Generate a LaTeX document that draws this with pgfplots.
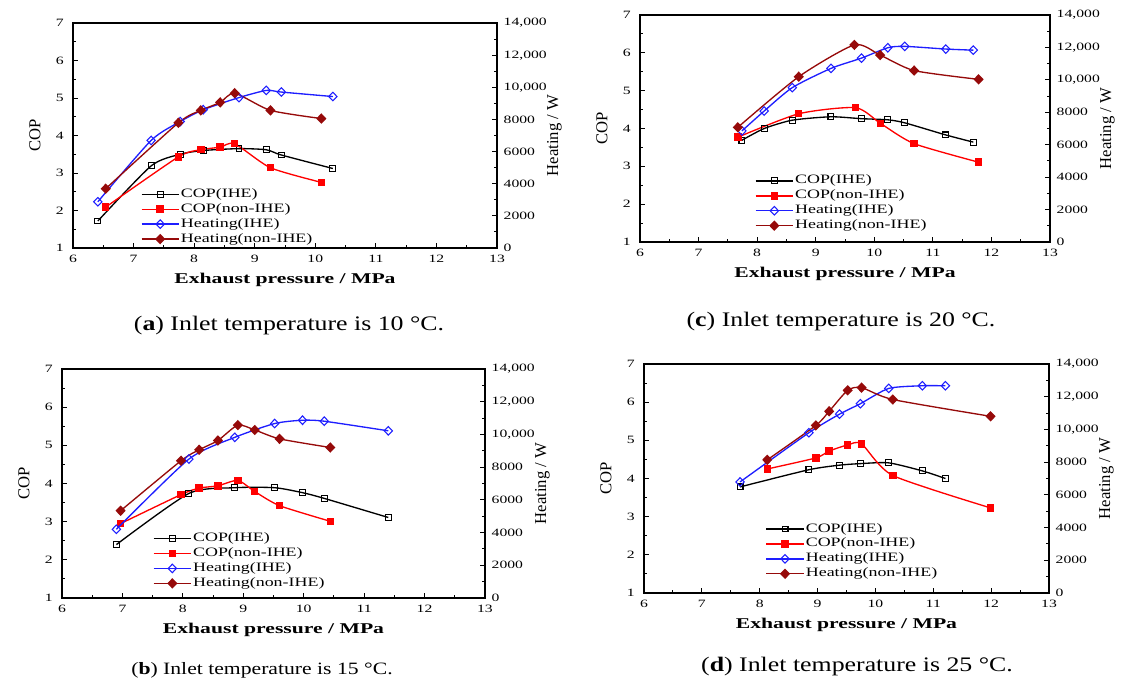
\documentclass[border=0pt]{standalone}
\usepackage{fontspec}
\setmainfont{Liberation Serif}
\newfontfamily\tickfont[FakeStretch=1.4]{Liberation Serif}
\newfontfamily\legfont[FakeStretch=1.4]{Liberation Serif}
\newfontfamily\labfont[FakeStretch=1.45]{Liberation Serif}
\newfontfamily\capfont[FakeStretch=1.25]{Liberation Serif}
\usepackage{pgfplots}
\pgfplotsset{compat=1.18}

\definecolor{cblue}{RGB}{30,30,255}
\definecolor{cdred}{RGB}{150,10,10}

\pgfplotsset{
  base/.style={
    scale only axis, anchor=south west,
    xmin=6, xmax=13, xtick={6,...,13}, minor x tick num=1,
    tick align=inside,
    major tick length=3.5pt, minor tick length=2pt,
    every tick/.style={black, line width=0.7pt},
    axis line style={line width=0.9pt},
    /pgf/number format/assume math mode=true,
    ticklabel style={font=\tickfont\fontsize{8.4}{9}\selectfont},
  },
  copax/.style={base,
    ymin=1, ymax=7, ytick={1,...,7}, minor y tick num=1,
    tick pos=left,
    xticklabel style={yshift=-1.5pt},
    yticklabel style={xshift=-3.5pt},
    xlabel={\labfont\bfseries\fontsize{11.2}{12}\selectfont Exhaust pressure / MPa},
    ylabel={\fontsize{12.5}{13}\selectfont COP},
    every axis x label/.style={at={(axis description cs:0.5,0)}, yshift=-24pt, anchor=center},
    every axis y label/.style={at={(axis description cs:0,0.5)}, xshift=-28.5pt, rotate=90, anchor=center},
  },
  heatax/.style={base,
    axis x line=none, axis y line*=right,
    ymin=0, ymax=14000, ytick={0,2000,...,14000},
    yticklabels={0,2000,4000,6000,8000,{10,000},{12,000},{14,000}},
    scaled y ticks=false, minor y tick num=1,
    yticklabel style={xshift=1.5pt},
    ylabel={\fontsize{12.5}{13}\selectfont Heating / W},
    every axis y label/.style={at={(axis description cs:1,0.5)}, xshift=43pt, rotate=90, anchor=center},
    legend style={draw=none, fill=none, anchor=north west,
      font=\legfont\fontsize{9.6}{10}\selectfont,
      nodes={text height=6.8pt, text depth=2.2pt, inner sep=1.1pt}},
    legend cell align=left,
    legend image code/.code={\draw[mark repeat=2,mark phase=2,##1] plot coordinates {(0pt,0pt) (14pt,0pt) (28pt,0pt)};},
  },
  copihe/.style={black, line width=1pt, smooth, tension=0.4, mark=square, mark size=2.2pt, mark options={solid, fill=white, line width=0.8pt}},
  copnon/.style={red, line width=1pt, smooth, tension=0.4, mark=square*, mark size=2.3pt, mark options={solid}},
  heatihe/.style={cblue, line width=1pt, smooth, tension=0.4, mark=diamond, mark size=3.2pt, mark options={solid, fill=white, line width=0.8pt, xscale=1.3}},
  heatnon/.style={cdred, line width=1pt, smooth, tension=0.4, mark=diamond*, mark size=3.2pt, mark options={solid, xscale=1.3}},
}

\begin{document}
\begin{tikzpicture}
\useasboundingbox (0,0) rectangle (842.25pt,-516.75pt);

% (a) 10 C
\begin{axis}[copax, at={(54.75pt,-186pt)}, width=318pt, height=168.75pt]
  \addplot[copihe] coordinates {(6.41,1.72) (7.29,3.19) (7.77,3.50) (8.15,3.60) (8.74,3.65) (9.19,3.62) (9.44,3.48) (10.29,3.12)};
  \addplot[copnon] coordinates {(6.54,2.09) (7.74,3.43) (8.11,3.62) (8.43,3.69) (8.67,3.78) (9.26,3.14) (10.10,2.75)};
\end{axis}
\begin{axis}[heatax, at={(54.75pt,-186pt)}, width=318pt, height=168.75pt,
    legend style={at={(0.15,0.285)}}]
  \addlegendimage{copihe}\addlegendentry{COP(IHE)}
  \addlegendimage{copnon}\addlegendentry{COP(non-IHE)}
  \addplot[heatihe] coordinates {(6.41,2876) (7.29,6695) (7.77,7868) (8.15,8603) (8.74,9360) (9.19,9804) (9.44,9703) (10.29,9424)};
  \addlegendentry{Heating(IHE)}
  \addplot[heatnon] coordinates {(6.54,3689) (7.74,7791) (8.11,8564) (8.43,9060) (8.67,9633) (9.26,8564) (10.10,8055)};
  \addlegendentry{Heating(non-IHE)}
\end{axis}

% (c) 20 C
\begin{axis}[copax, at={(480pt,-181.5pt)}, width=307.5pt, height=170.25pt]
  \addplot[copihe] coordinates {(7.74,3.69) (8.12,4.00) (8.60,4.22) (9.26,4.31) (9.78,4.26) (10.23,4.23) (10.52,4.15) (11.22,3.83) (11.69,3.64)};
  \addplot[copnon] coordinates {(7.67,3.77) (8.71,4.39) (9.68,4.55) (10.11,4.13) (10.68,3.60) (11.78,3.11)};
\end{axis}
\begin{axis}[heatax, at={(480pt,-181.5pt)}, width=307.5pt, height=170.25pt,
    legend style={at={(0.27,0.315)}}]
  \addlegendimage{copihe}\addlegendentry{COP(IHE)}
  \addlegendimage{copnon}\addlegendentry{COP(non-IHE)}
  \addplot[heatihe] coordinates {(7.74,6853) (8.12,8077) (8.60,9521) (9.26,10707) (9.78,11340) (10.23,11980) (10.52,12066) (11.22,11901) (11.69,11832)};
  \addlegendentry{Heating(IHE)}
  \addplot[heatnon] coordinates {(7.67,7072) (8.71,10195) (9.66,12156) (10.10,11528) (10.68,10573) (11.78,10032)};
  \addlegendentry{Heating(non-IHE)}
\end{axis}

% (b) 15 C
\begin{axis}[copax, at={(46.5pt,-448.5pt)}, width=317.25pt, height=171.75pt]
  \addplot[copihe] coordinates {(6.90,2.40) (8.10,3.74) (8.86,3.89) (9.52,3.89) (9.98,3.76) (10.34,3.61) (11.40,3.11)};
  \addplot[copnon] coordinates {(6.97,2.95) (7.97,3.71) (8.27,3.88) (8.58,3.94) (8.91,4.08) (9.19,3.79) (9.60,3.42) (10.44,3.01)};
\end{axis}
\begin{axis}[heatax, at={(46.5pt,-448.5pt)}, width=317.25pt, height=171.75pt,
    legend style={at={(0.205,0.305)}}]
  \addlegendimage{copihe}\addlegendentry{COP(IHE)}
  \addlegendimage{copnon}\addlegendentry{COP(non-IHE)}
  \addplot[heatihe] coordinates {(6.90,4200) (8.10,8493) (8.86,9823) (9.52,10668) (9.98,10868) (10.34,10808) (11.40,10221)};
  \addlegendentry{Heating(IHE)}
  \addplot[heatnon] coordinates {(6.97,5336) (7.97,8392) (8.27,9063) (8.58,9629) (8.91,10570) (9.19,10273) (9.60,9730) (10.44,9202)};
  \addlegendentry{Heating(non-IHE)}
\end{axis}

% (d) 25 C
\begin{axis}[copax, at={(483pt,-444.75pt)}, width=303.75pt, height=171.75pt]
  \addplot[copihe] coordinates {(7.66,3.78) (8.85,4.23) (9.38,4.35) (9.74,4.39) (10.23,4.41) (10.81,4.20) (11.21,4.00)};
  \addplot[copnon] coordinates {(8.13,4.25) (8.97,4.54) (9.20,4.72) (9.52,4.88) (9.76,4.91) (10.30,4.08) (11.99,3.23)};
\end{axis}
\begin{axis}[heatax, at={(483pt,-444.75pt)}, width=303.75pt, height=171.75pt,
    legend style={at={(0.29,0.325)}}]
  \addlegendimage{copihe}\addlegendentry{COP(IHE)}
  \addlegendimage{copnon}\addlegendentry{COP(non-IHE)}
  \addplot[heatihe] coordinates {(7.66,6790) (8.85,9800) (9.38,10937) (9.74,11573) (10.23,12507) (10.81,12670) (11.21,12670)};
  \addlegendentry{Heating(IHE)}
  \addplot[heatnon] coordinates {(8.13,8140) (8.97,10245) (9.20,11110) (9.52,12392) (9.76,12555) (10.30,11830) (11.99,10803)};
  \addlegendentry{Heating(non-IHE)}
\end{axis}

% captions
\node at (216.75pt,-244.5pt) {\capfont\fontsize{15.5}{18}\selectfont (\textbf{a}) Inlet temperature is 10~°C.};
\node at (630.75pt,-241.5pt) {\capfont\fontsize{15.5}{18}\selectfont (\textbf{c}) Inlet temperature is 20~°C.};
\node at (196.5pt,-502.5pt) {\capfont\fontsize{13}{16}\selectfont (\textbf{b}) Inlet temperature is 15~°C.};
\node at (642.75pt,-500.25pt) {\capfont\fontsize{15.5}{18}\selectfont (\textbf{d}) Inlet temperature is 25~°C.};
\end{tikzpicture}
\end{document}
